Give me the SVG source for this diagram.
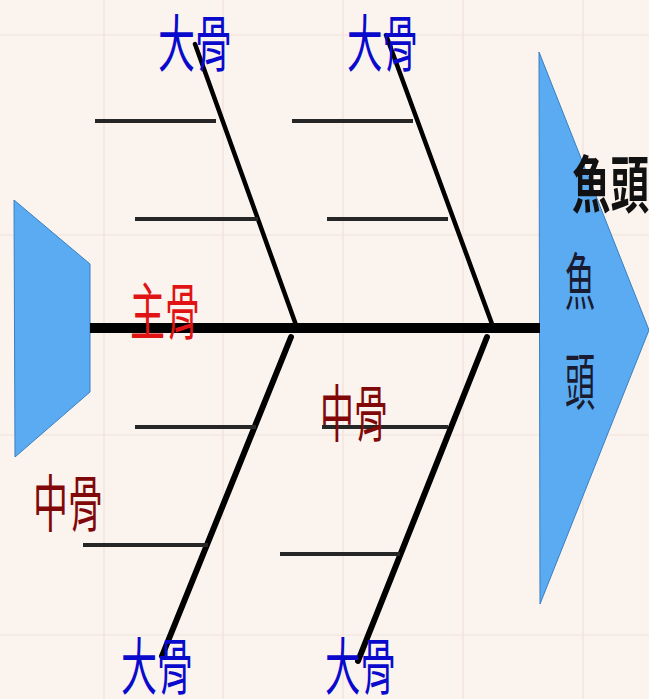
<svg xmlns="http://www.w3.org/2000/svg" width="649" height="699" viewBox="0 0 649 699">
<defs>
<style>
.grid{stroke:#f0e2da;stroke-width:1.2;fill:none}
.spine{stroke:#000;stroke-width:10;fill:none}
.big{stroke:#000;stroke-width:4.5;fill:none;stroke-linecap:round}
.small{stroke:#262626;stroke-width:4;fill:none}
.shape{fill:#5aabf2;stroke:#3a7fc0;stroke-width:1}
.t{font-family:"Noto Sans CJK TC","Noto Sans CJK JP",sans-serif;font-size:62px}
.blue{fill:#0a0acc}
.red{fill:#e01414}
.dred{fill:#800808}
.blk{fill:#111}
</style>
</defs>
<rect width="649" height="699" fill="#fbf3ee"/>
<g id="grid">
<path class="grid" d="M104 0V699M223 0V699M343 0V699M463 0V699M583 0V699M0 35H649M0 235H649M0 435H649M0 635H649"/>
</g>
<g id="tail"><polygon class="shape" points="14,200 90,264 90,392 15,457"/></g>
<g id="head"><polygon class="shape" points="539,52 649,330 540,604"/></g>
<g id="connectors">
<line class="spine" x1="90" y1="328" x2="540" y2="328"/>
<line class="big" x1="195" y1="44" x2="296" y2="325"/>
<line class="big" x1="386" y1="35" x2="492" y2="324"/>
<line class="big" x1="291" y1="337" x2="162" y2="656" style="stroke-width:6"/>
<line class="big" x1="487" y1="337" x2="358" y2="661" style="stroke-width:6"/>
<line class="small" x1="95" y1="121" x2="216" y2="121"/>
<line class="small" x1="135" y1="219" x2="258" y2="219"/>
<line class="small" x1="292" y1="121" x2="413" y2="121"/>
<line class="small" x1="327" y1="219" x2="448" y2="219"/>
<line class="small" x1="135" y1="427" x2="256" y2="427"/>
<line class="small" x1="83" y1="545" x2="208" y2="545"/>
<line class="small" x1="322" y1="427" x2="448" y2="427"/>
<line class="small" x1="280" y1="554" x2="400" y2="554"/>
</g>
<g id="label-big1"><text class="t blue" x="158" y="67" textLength="74" lengthAdjust="spacingAndGlyphs">大骨</text></g>
<g id="label-big2"><text class="t blue" x="347" y="67" textLength="71" lengthAdjust="spacingAndGlyphs">大骨</text></g>
<g id="label-big3"><text class="t blue" x="121" y="690" textLength="72" lengthAdjust="spacingAndGlyphs">大骨</text></g>
<g id="label-big4"><text class="t blue" x="325" y="690" textLength="71" lengthAdjust="spacingAndGlyphs">大骨</text></g>
<g id="label-main"><text class="t red" x="130" y="335" textLength="70" lengthAdjust="spacingAndGlyphs">主骨</text></g>
<g id="label-mid1"><text class="t dred" x="33" y="527" textLength="70" lengthAdjust="spacingAndGlyphs">中骨</text></g>
<g id="label-mid2"><text class="t dred" x="320" y="437" textLength="68" lengthAdjust="spacingAndGlyphs">中骨</text></g>
<g id="label-head"><text class="t blk" x="572" y="208" font-size="60" font-weight="bold" textLength="77" lengthAdjust="spacingAndGlyphs">魚頭</text></g>
<g id="label-head-v">
<text class="t" fill="#1a1a30" x="565" y="305" font-size="54" textLength="30" lengthAdjust="spacingAndGlyphs">魚</text>
<text class="t" fill="#1a1a30" x="565" y="405" font-size="58" textLength="30" lengthAdjust="spacingAndGlyphs">頭</text>
</g>
</svg>
